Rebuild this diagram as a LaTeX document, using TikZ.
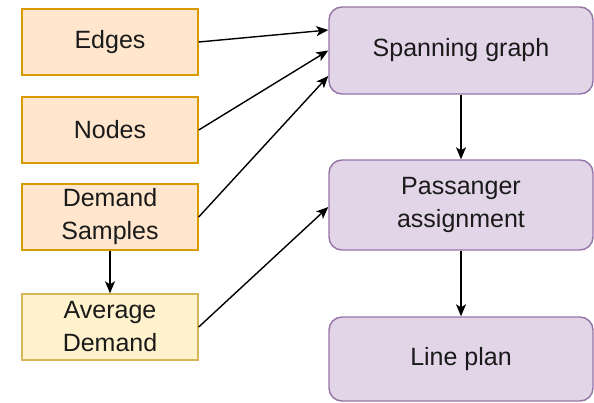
\documentclass[tikz,border=0pt]{standalone}
\usepackage{fontspec}
\setmainfont{Liberation Sans}
\usetikzlibrary{arrows.meta}
\definecolor{inFill}{HTML}{FFE6CC}
\definecolor{inLine}{HTML}{D79B00}
\definecolor{avgFill}{HTML}{FFF2CC}
\definecolor{avgLine}{HTML}{D6B656}
\definecolor{procFill}{HTML}{E1D5E7}
\definecolor{procLine}{HTML}{9673A6}
\definecolor{txt}{HTML}{1A1A1A}
\tikzset{
  inbox/.style={draw=inLine, fill=inFill, line width=1.4pt, minimum width=176pt,
    minimum height=66pt, align=center, text=txt,
    font=\fontsize{25}{33}\selectfont, inner sep=0pt},
  avgbox/.style={inbox, draw=avgLine, fill=avgFill},
  procbox/.style={draw=procLine, fill=procFill, line width=1.4pt, rounded corners=13pt,
    minimum width=264pt, minimum height=87pt, align=center, text=txt,
    font=\fontsize{25}{33}\selectfont, inner sep=0pt},
  link/.style={-{Stealth[length=12pt,width=10pt,inset=3pt]}, line width=1.4pt, black}
}
\begin{document}
\begin{tikzpicture}[x=1pt, y=-1pt]
  \useasboundingbox (0,0) rectangle (594,402);
  % inputs
  \node[inbox]  (e) at (110,42)  {Edges};
  \node[inbox]  (n) at (110,130) {Nodes};
  \node[inbox]  (d) at (110,217) {Demand\\Samples};
  \node[avgbox] (a) at (110,327) {Average\\Demand};
  % processing chain
  \node[procbox] (s) at (461,50.5) {Spanning graph};
  \node[procbox, minimum height=90pt] (p) at (461,205) {Passanger\\assignment};
  \node[procbox, minimum height=84pt] (l) at (461,359) {Line plan};
  % connectors
  \draw[link] (e.east) -- ([yshift=20.5pt]s.west);
  \draw[link] (n.east) -- (s.west);
  \draw[link] (d.east) -- ([yshift=-25.5pt]s.west);
  \draw[link] (a.east) -- ([yshift=-2pt]p.west);
  \draw[link] (d.south) -- (a.north);
  \draw[link] (s.south) -- (p.north);
  \draw[link] (p.south) -- (l.north);
\end{tikzpicture}
\end{document}
